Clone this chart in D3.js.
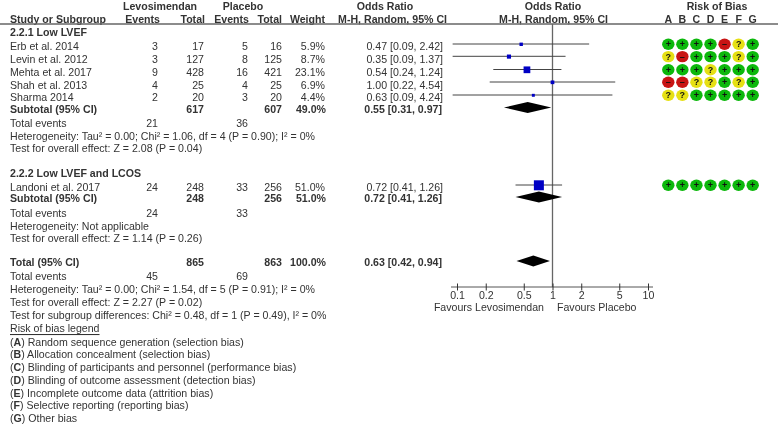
<!DOCTYPE html>
<html><head><meta charset="utf-8">
<script src="https://cdn.jsdelivr.net/npm/d3@7/dist/d3.min.js"></script>
<style>
html,body{margin:0;padding:0;background:#fff;overflow:hidden}
svg{display:block;filter:blur(0.45px)}
text{font-family:"Liberation Sans",Arial,sans-serif;font-size:10.6px;fill:#333}
.b{font-weight:bold}
</style></head><body>
<svg id="c" width="778" height="425"></svg>
<script>
const studies=["Erb et al. 2014","Levin et al. 2012","Mehta et al. 2017","Shah et al. 2013","Sharma 2014","Landoni et al. 2017"];
const eventsA=[3,3,9,4,2,24];
const totalA=[17,127,428,25,20,248];
const eventsB=[5,8,16,4,3,33];
const totalB=[16,125,421,25,20,256];
const weights=[5.9,8.7,23.1,6.9,4.4,51.0];
const oddsRatio=[0.47,0.35,0.54,1.00,0.63,0.72];
const ciLow=[0.09,0.09,0.24,0.22,0.09,0.41];
const ciHigh=[2.42,1.37,1.24,4.54,4.24,1.26];
const biasRows=["++++-?+","?-+++?+","+++?+++","--??+?+","??+++++","+++++++"];
const biasLetters=["A","B","C","D","E","F","G"];
const axisTicks=[0.1,0.2,0.5,1,2,5,10];
const subtotalNames=["Subtotal (95% CI)","Subtotal (95% CI)","Total (95% CI)"];
const subtotalA=[617,248,865];
const subtotalB=[607,256,863];
const subtotalWeight=["49.0%","51.0%","100.0%"];
const subtotalOR=[0.55,0.72,0.63];
const subtotalLow=[0.31,0.41,0.42];
const subtotalHigh=[0.97,1.26,0.94];
const totalEventsA=[21,24,45];
const totalEventsB=[36,33,69];
const heterogeneity=["Heterogeneity: Tau² = 0.00; Chi² = 1.06, df = 4 (P = 0.90); I² = 0%","Heterogeneity: Not applicable","Heterogeneity: Tau² = 0.00; Chi² = 1.54, df = 5 (P = 0.91); I² = 0%"];
const overallTest=["Test for overall effect: Z = 2.08 (P = 0.04)","Test for overall effect: Z = 1.14 (P = 0.26)","Test for overall effect: Z = 2.27 (P = 0.02)"];
const legendKeys=["A","B","C","D","E","F","G"];
const legendTexts=["Random sequence generation (selection bias)","Allocation concealment (selection bias)","Blinding of participants and personnel (performance bias)","Blinding of outcome assessment (detection bias)","Incomplete outcome data (attrition bias)","Selective reporting (reporting bias)","Other bias"];

const svg=d3.select("#c");
const T=(x,y,s,o={})=>{const t=svg.append("text").attr("x",x).attr("y",y).text(s)
  .attr("text-anchor",o.a||"start").attr("dominant-baseline","central");
  if(o.b)t.attr("class","b"); return t;};
const fmt=d3.format(".2f");
const col={ea:158,ta:204,eb:248,tb:282,w:325,or:443};
const x=d3.scaleLog().domain([0.1,10]).range([457,648]);

// headers
T(160,6,"Levosimendan",{a:"middle",b:1});
T(243,6,"Placebo",{a:"middle",b:1});
T(385,6,"Odds Ratio",{a:"middle",b:1});
T(553,6,"Odds Ratio",{a:"middle",b:1});
T(717,6,"Risk of Bias",{a:"middle",b:1});
const h2=18.5;
T(10,h2,"Study or Subgroup",{b:1});
T(col.ea+2,h2,"Events",{a:"end",b:1});
T(col.ta+1,h2,"Total",{a:"end",b:1});
T(col.eb+1,h2,"Events",{a:"end",b:1});
T(col.tb,h2,"Total",{a:"end",b:1});
T(col.w,h2,"Weight",{a:"end",b:1});
T(447,h2,"M-H, Random, 95% CI",{a:"end",b:1});
T(608,h2,"M-H, Random, 95% CI",{a:"end",b:1});
const dotX=d3.scalePoint().domain(biasLetters).range([668.3,752.7]);
biasLetters.forEach(l=>T(dotX(l),h2,l,{a:"middle",b:1}));
svg.append("line").attr("x1",0).attr("x2",778).attr("y1",24).attr("y2",24).attr("stroke","#666").attr("stroke-width",1.3);

T(10,31.5,"2.2.1 Low LVEF",{b:1});
T(10,172.5,"2.2.2 Low LVEF and LCOS",{b:1});

// study rows
const textY=[46,59,72,84.5,97,187];
const markY=[44,56.3,69.5,82,95,185];
const size=d3.scaleSqrt().domain([0,51]).range([0,10]);
svg.append("line").attr("x1",x(1)).attr("x2",x(1)).attr("y1",24).attr("y2",287).attr("stroke","#666").attr("stroke-width",1.3);
studies.forEach((s,i)=>{
  T(10,textY[i],s);
  T(col.ea,textY[i],eventsA[i],{a:"end"});
  T(col.ta,textY[i],totalA[i],{a:"end"});
  T(col.eb,textY[i],eventsB[i],{a:"end"});
  T(col.tb,textY[i],totalB[i],{a:"end"});
  T(col.w,textY[i],weights[i].toFixed(1)+"%",{a:"end"});
  T(col.or,textY[i],`${fmt(oddsRatio[i])} [${fmt(ciLow[i])}, ${fmt(ciHigh[i])}]`,{a:"end"});
  svg.append("line").attr("x1",x(ciLow[i])).attr("x2",x(ciHigh[i])).attr("y1",markY[i]).attr("y2",markY[i]).attr("stroke","#444").attr("stroke-width",1);
  const m=size(weights[i]);
  svg.append("rect").attr("x",x(oddsRatio[i])-m/2).attr("y",markY[i]-m/2+.3).attr("width",m).attr("height",m).attr("fill","#0000c4");
  biasRows[i].split("").forEach((c,j)=>{
    const cx=dotX(biasLetters[j]);
    svg.append("ellipse").attr("cx",cx).attr("cy",markY[i]+.3).attr("rx",6.2).attr("ry",5.7)
      .attr("fill",c==="+"?"#0cb80c":c==="-"?"#c81414":"#e6e014");
    svg.append("text").attr("x",cx).attr("y",markY[i]+.4).attr("text-anchor","middle").attr("dominant-baseline","central")
      .style("font-weight","bold").style("font-size","9px").style("fill","#111").text(c==="-"?"–":c);
  });
});

// subtotals
const subY=[108.5,198,262];
const diaY=[107.5,197,261];
subtotalNames.forEach((s,i)=>{
  T(10,subY[i],s,{b:1});
  T(col.ta,subY[i],subtotalA[i],{a:"end",b:1});
  T(col.tb,subY[i],subtotalB[i],{a:"end",b:1});
  T(col.w+1,subY[i],subtotalWeight[i],{a:"end",b:1});
  T(col.or-1,subY[i],`${fmt(subtotalOR[i])} [${fmt(subtotalLow[i])}, ${fmt(subtotalHigh[i])}]`,{a:"end",b:1});
  const y=diaY[i];
  svg.append("path").attr("fill","#000")
    .attr("d",d3.line()([[x(subtotalLow[i]),y],[x(subtotalOR[i]),y-5.5],[x(subtotalHigh[i]),y],[x(subtotalOR[i]),y+5.5]])+"Z");
});

// totals + tests
const evY=[123,213,276], hetY=[135.5,225.5,289], testY=[148,238,302];
evY.forEach((y,i)=>{
  T(10,y,"Total events");
  T(col.ea,y,totalEventsA[i],{a:"end"});
  T(col.eb,y,totalEventsB[i],{a:"end"});
  T(10,hetY[i],heterogeneity[i]);
  T(10,testY[i],overallTest[i]);
});
T(10,315,"Test for subgroup differences: Chi² = 0.48, df = 1 (P = 0.49), I² = 0%");
T(10,328,"Risk of bias legend").attr("text-decoration","underline");
const legY=d3.scalePoint().domain(legendKeys).range([341.5,418]);
legendKeys.forEach((k,i)=>{
  const t=T(10,legY(k),"(");
  t.append("tspan").style("font-weight","bold").text(k);
  t.append("tspan").text(") "+legendTexts[i]);
});

// axis
const ax=svg.append("g").attr("transform","translate(0,287)")
  .call(d3.axisBottom(x).tickValues(axisTicks).tickFormat(d=>String(d)).tickSize(3.5).tickPadding(4));
ax.selectAll("path").remove();
ax.insert("line",":first-child").attr("x1",451).attr("x2",653).attr("stroke","#555").attr("stroke-width",1);
ax.selectAll(".tick line").attr("y1",-3.5).attr("stroke","#333");
ax.selectAll(".tick text").attr("y",3.5).attr("dy",null).attr("dominant-baseline","hanging").style("font-size","10.6px").style("font-family",'"Liberation Sans",Arial,sans-serif').style("fill","#333");
T(544,306.5,"Favours Levosimendan",{a:"end"});
T(557,306.5,"Favours Placebo");
</script>
</body></html>
